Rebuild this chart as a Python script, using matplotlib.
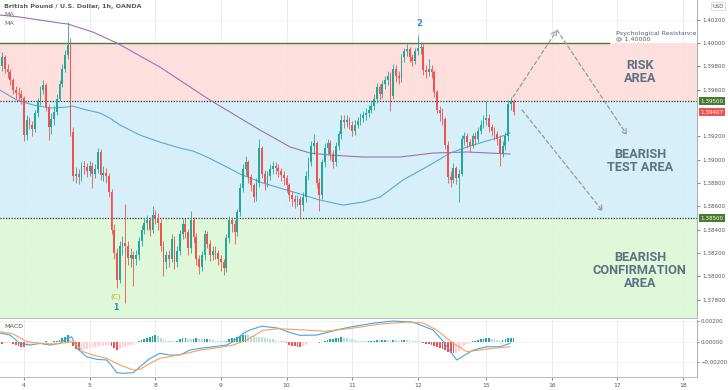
import matplotlib
matplotlib.use("Agg")
import matplotlib.pyplot as plt
import numpy as np

# ---------------- data ----------------
first_bar = -8
first_open = 1.3980
closes = [
    1.3988, 1.3978, 1.3975, 1.3968, 1.3960, 1.3957, 1.3956, 1.3953, 1.3921, 1.3934,
    1.3930, 1.3926, 1.3940, 1.3950, 1.3960, 1.3964, 1.3945, 1.3928, 1.3935, 1.3941,
    1.3952, 1.3965, 1.3978, 1.3990, 1.3998, 1.3924, 1.3886, 1.3888, 1.3885, 1.3895,
    1.3894, 1.3890, 1.3895, 1.3888, 1.3892, 1.3907, 1.3887, 1.3889, 1.3886, 1.3872,
    1.3840, 1.3820, 1.3797, 1.3826, 1.3829, 1.3826, 1.3816, 1.3818, 1.3815, 1.3818,
    1.3830, 1.3840, 1.3846, 1.3848, 1.3840, 1.3853, 1.3850, 1.3846, 1.3826, 1.3812,
    1.3818, 1.3815, 1.3832, 1.3812, 1.3822, 1.3836, 1.3845, 1.3838, 1.3824, 1.3848,
    1.3834, 1.3815, 1.3808, 1.3818, 1.3836, 1.3828, 1.3818, 1.3822, 1.3820, 1.3815,
    1.3812, 1.3807, 1.3833, 1.3848, 1.3845, 1.3838, 1.3855, 1.3876, 1.3892, 1.3898,
    1.3885, 1.3878, 1.3868, 1.3880, 1.3910, 1.3888, 1.3880, 1.3886, 1.3892, 1.3895,
    1.3893, 1.3890, 1.3887, 1.3884, 1.3878, 1.3870, 1.3866, 1.3864, 1.3866, 1.3861,
    1.3868, 1.3886, 1.3898, 1.3912, 1.3914, 1.3880, 1.3870, 1.3898, 1.3910, 1.3914,
    1.3905, 1.3898, 1.3912, 1.3922, 1.3934, 1.3932, 1.3934, 1.3930, 1.3925, 1.3930,
    1.3933, 1.3936, 1.3938, 1.3940, 1.3943, 1.3946, 1.3952, 1.3962, 1.3956, 1.3965,
    1.3968, 1.3972, 1.3955, 1.3978, 1.3972, 1.3970, 1.3988, 1.3993, 1.3995, 1.3988,
    1.3985, 1.3993, 1.3996, 1.3997, 1.3977, 1.3975, 1.3978, 1.3975, 1.3958, 1.3943,
    1.3940, 1.3935, 1.3913, 1.3885, 1.3883, 1.3893, 1.3884, 1.3888, 1.3918, 1.3920,
    1.3915, 1.3912, 1.3920, 1.3918, 1.3925, 1.3930, 1.3934, 1.3936, 1.3928, 1.3925,
    1.3922, 1.3918, 1.3906, 1.3912, 1.3920, 1.3948, 1.3950, 1.39407,
]
highs = [
    1.3992, 1.3990, 1.3982, 1.3978, 1.3970, 1.3963, 1.3962, 1.3960, 1.3955, 1.3938,
    1.3937, 1.3933, 1.3943, 1.3953, 1.3963, 1.3968, 1.3966, 1.3948, 1.3940, 1.3946,
    1.3956, 1.3968, 1.3982, 1.3994, 1.4018, 1.4004, 1.3928, 1.3894, 1.3892, 1.3898,
    1.3899, 1.3897, 1.3899, 1.3898, 1.3896, 1.3910, 1.3909, 1.3895, 1.3893, 1.3889,
    1.3875, 1.3845, 1.3824, 1.3830, 1.3835, 1.3862, 1.3830, 1.3824, 1.3822, 1.3823,
    1.3834, 1.3844, 1.3850, 1.3853, 1.3851, 1.3860, 1.3857, 1.3854, 1.3849, 1.3830,
    1.3822, 1.3823, 1.3836, 1.3835, 1.3826, 1.3840, 1.3849, 1.3850, 1.3841, 1.3856,
    1.3851, 1.3837, 1.3818, 1.3822, 1.3840, 1.3839, 1.3831, 1.3826, 1.3826, 1.3823,
    1.3818, 1.3815, 1.3836, 1.3852, 1.3851, 1.3848, 1.3858, 1.3880, 1.3896, 1.3903,
    1.3900, 1.3888, 1.3880, 1.3884, 1.3918, 1.3912, 1.3891, 1.3890, 1.3896, 1.3899,
    1.3898, 1.3896, 1.3893, 1.3890, 1.3887, 1.3880, 1.3873, 1.3870, 1.3870, 1.3869,
    1.3872, 1.3890, 1.3902, 1.3916, 1.3922, 1.3916, 1.3884, 1.3901, 1.3914, 1.3918,
    1.3917, 1.3908, 1.3915, 1.3925, 1.3938, 1.3938, 1.3938, 1.3937, 1.3933, 1.3934,
    1.3937, 1.3940, 1.3942, 1.3944, 1.3947, 1.3950, 1.3956, 1.3966, 1.3965, 1.3968,
    1.3972, 1.3976, 1.3975, 1.3982, 1.3981, 1.3976, 1.3991, 1.3996, 1.3999, 1.3997,
    1.3991, 1.3996, 1.4007, 1.4001, 1.3999, 1.3981, 1.3986, 1.3981, 1.3977, 1.3960,
    1.3946, 1.3944, 1.3937, 1.3916, 1.3890, 1.3897, 1.3895, 1.3892, 1.3921, 1.3924,
    1.3923, 1.3918, 1.3923, 1.3924, 1.3928, 1.3934, 1.3938, 1.3950, 1.3939, 1.3931,
    1.3928, 1.3925, 1.3921, 1.3916, 1.3924, 1.3951, 1.3954, 1.3952,
]
lows = [
    1.3976, 1.3974, 1.3970, 1.3964, 1.3956, 1.3952, 1.3950, 1.3948, 1.3916, 1.3917,
    1.3926, 1.3920, 1.3924, 1.3937, 1.3947, 1.3956, 1.3942, 1.3917, 1.3922, 1.3930,
    1.3938, 1.3950, 1.3962, 1.3975, 1.3986, 1.3920, 1.3882, 1.3880, 1.3879, 1.3882,
    1.3888, 1.3885, 1.3886, 1.3876, 1.3884, 1.3889, 1.3883, 1.3882, 1.3880, 1.3868,
    1.3836, 1.3815, 1.3790, 1.3794, 1.3818, 1.3777, 1.3810, 1.3808, 1.3792, 1.3810,
    1.3814, 1.3826, 1.3836, 1.3840, 1.3835, 1.3837, 1.3845, 1.3840, 1.3822, 1.3800,
    1.3806, 1.3808, 1.3812, 1.3806, 1.3808, 1.3818, 1.3832, 1.3833, 1.3818, 1.3820,
    1.3829, 1.3810, 1.3802, 1.3805, 1.3814, 1.3824, 1.3813, 1.3814, 1.3815, 1.3810,
    1.3805, 1.3801, 1.3804, 1.3829, 1.3838, 1.3828, 1.3835, 1.3852, 1.3872, 1.3887,
    1.3880, 1.3873, 1.3864, 1.3865, 1.3877, 1.3884, 1.3874, 1.3877, 1.3883, 1.3888,
    1.3888, 1.3885, 1.3882, 1.3878, 1.3872, 1.3865, 1.3860, 1.3859, 1.3860, 1.3851,
    1.3856, 1.3864, 1.3883, 1.3895, 1.3905, 1.3876, 1.3856, 1.3866, 1.3894, 1.3905,
    1.3900, 1.3893, 1.3895, 1.3908, 1.3918, 1.3927, 1.3928, 1.3926, 1.3920, 1.3921,
    1.3927, 1.3930, 1.3932, 1.3934, 1.3937, 1.3940, 1.3943, 1.3949, 1.3951, 1.3953,
    1.3961, 1.3964, 1.3942, 1.3952, 1.3967, 1.3965, 1.3967, 1.3984, 1.3989, 1.3984,
    1.3980, 1.3982, 1.3990, 1.3991, 1.3973, 1.3970, 1.3972, 1.3970, 1.3954, 1.3940,
    1.3933, 1.3930, 1.3909, 1.3880, 1.3877, 1.3880, 1.3879, 1.3864, 1.3886, 1.3913,
    1.3910, 1.3907, 1.3910, 1.3913, 1.3915, 1.3922, 1.3927, 1.3930, 1.3924, 1.3920,
    1.3917, 1.3913, 1.3895, 1.3902, 1.3908, 1.3916, 1.3943, 1.3938,
]

# moving averages (bar index, price)
ma_slow_bars = [-8.8, -1.5, 13.2, 16.1, 25.2, 34.0, 49.7, 68.0, 86.3, 97.3, 104.6, 111.9,
                123.9, 137.5, 149.5, 162.0, 170.4, 177.7]
ma_slow_vals = [1.40240, 1.40223, 1.40171, 1.40163, 1.40094, 1.40000, 1.39794, 1.39511,
                1.39254, 1.39109, 1.39057, 1.39040, 1.39023, 1.39023, 1.39057, 1.39066,
                1.39057, 1.39049]
ma_fast_bars = [-8.8, -2.6, 3.3, 9.5, 15.7, 17.6, 23.0, 27.8, 31.4, 35.1, 42.4, 49.7, 57.0,
                61.8, 66.9, 74.2, 79.0, 87.4, 99.8, 108.2, 116.6, 124.0, 130.2, 138.6,
                148.4, 155.8, 162.0, 167.8, 174.0, 177.7]
ma_fast_vals = [1.39597, 1.39511, 1.39469, 1.39443, 1.39451, 1.39460, 1.39426, 1.39400,
                1.39357, 1.39297, 1.39211, 1.39151, 1.39100, 1.39074, 1.39023, 1.38937,
                1.38877, 1.38800, 1.38714, 1.38654, 1.38611, 1.38637, 1.38680, 1.38826,
                1.38954, 1.39057, 1.39109, 1.39151, 1.39194, 1.39229]

# MACD histogram, units of 1e-4 (bars -8 .. 179)
macd_hist_e4 = [
    -2.0, -1.8, -1.6, -1.5,
    -2.5, -3.5, -4.5, -5.0, -5.2,
    -4.0, -3.0, -2.0,
    -1.0, -0.5, -0.8, -0.4, 0.3, -0.3, -0.5, 0.2,
    0.8, 1.8, 3.0, 4.5, 6.0,
    2.0,
    -4.0, -7.0, -8.5, -8.2,
    -7.5, -7.0, -6.5, -6.0, -5.5, -5.0, -4.5, -4.0, -3.5, -3.2,
    -4.5, -6.5, -8.5, -7.0,
    -6.0, -5.0, -4.0, -3.0, -2.0, -1.0,
    0.5, 1.5, 2.5, 3.5, 4.5, 5.5, 6.0,
    5.0, 3.5, 2.0, 1.0,
    0.5, 0.3, 0.2, 0.5,
    2.0, 3.0, 3.2, 2.5, 2.0,
    2.5, 3.0, 2.5, 2.0, 2.5, 2.8,
    2.0, 1.5, 1.0, 0.8, 0.5, 0.3, 1.0,
    2.0, 3.0, 3.5, 4.0, 5.0, 6.0, 6.5,
    6.0, 5.5, 5.0, 4.6, 4.4, 4.0, 3.5, 3.0, 2.5, 2.0, 1.5, 1.0, 0.5, 0.1,
    -1.5, -3.0, -4.0, -4.5, -5.0, -5.5,
    -4.5, -3.0,
    -1.5, -0.5, -0.3, -0.8, -1.0, -0.5,
    0.5, 1.5, 2.0, 2.5, 3.0, 3.5, 4.0, 3.5, 3.0,
    2.5, 2.0, 1.5, 1.0, 0.8, 0.6, 0.5,
    0.5, 0.8, 1.0, 1.5, 1.2, 1.5, 1.8, 1.5, 1.0, 1.5, 1.2, 1.0, 1.5, 1.8, 1.6, 1.2, 0.8,
    0.5, 0.3, 0.2,
    -1.0, -2.0, -2.5, -3.0, -4.0, -5.0, -6.0, -7.0,
    -8.5, -10.0, -11.0, -11.5, -11.0,
    -9.0, -6.0, -4.0, -2.5, -1.5,
    0.5, 1.0, 1.5, 2.0, 2.5, 3.0, 3.2,
    2.5, 2.0, 1.5, 1.0,
    1.5, 2.0, 3.0, 3.5, 3.8,
]
macd_bars = [-8.8, -5.1, -1.5, 2.2, 5.9, 9.5, 13.2, 15.6, 17.4, 19.3, 22.9, 26.6, 30.2, 31.4,
             33.9, 36.3, 40.0, 42.4, 46.1, 49.7, 53.4, 57.0, 60.7, 64.4, 69.2, 74.1, 76.5,
             80.2, 82.6, 87.0, 93.0, 97.0, 100.9, 107.0, 111.9, 115.5, 120.0, 128.0, 135.0,
             142.0, 146.0, 149.6, 153.3, 158.2, 164.3, 169.2, 174.0, 177.7]
macd_vals = [0.00083, 0.00063, -0.00018, -0.00034, -0.00018, -0.00034, -0.00018, 0.00031,
             0.00047, -0.00066, -0.00148, -0.00174, -0.00180, -0.00213, -0.00304, -0.00310,
             -0.00304, -0.00246, -0.00164, -0.00115, -0.00132, -0.00132, -0.00083, -0.00066,
             -0.00051, -0.00034, 0.0, 0.00080, 0.00112, 0.00150, 0.00130, 0.00090, 0.00060,
             0.00063, 0.00096, 0.00120, 0.00145, 0.00180, 0.00200, 0.00190, 0.00150,
             0.00112, 0.0, -0.00180, -0.00083, -0.00051, -0.00051, -0.00018]
signal_bars = [-8.8, -3.9, 1.0, 5.9, 10.7, 15.6, 18.0, 21.7, 25.3, 30.2, 35.1, 40.0, 42.4,
               46.1, 49.7, 54.6, 59.5, 64.4, 71.7, 76.5, 81.4, 87.5, 93.0, 101.0, 110.0,
               120.0, 130.0, 140.0, 146.0, 150.9, 157.0, 161.9, 166.7, 171.6, 177.7]
signal_vals = [0.00096, 0.00073, 0.0, -0.00018, -0.00024, -0.00010, 0.0, -0.00100, -0.00132,
               -0.00164, -0.00229, -0.00278, -0.00271, -0.00213, -0.00164, -0.00141, -0.00115,
               -0.00083, -0.00057, -0.00034, 0.00015, 0.00110, 0.00125, 0.00115, 0.00100,
               0.00130, 0.00170, 0.00190, 0.00180, 0.00112, -0.00018, -0.00100, -0.00083,
               -0.00066, -0.00051]

day_tick_bars = [0, 24, 48, 72, 96, 120, 144, 169, 193, 217, 241]
day_labels = ["4", "5", "8", "9", "10", "11", "12", "15", "16", "17", "18"]
price_ticks = [1.378, 1.380, 1.382, 1.384, 1.386, 1.388, 1.390, 1.392, 1.396, 1.398, 1.400, 1.402]
macd_ticks = [0.002, 0.0, -0.002]

resistance = 1.40000
upper_level = 1.39500
lower_level = 1.38500
last_price = 1.39407

proj_up = [(178.8, 1.39537), (194.9, 1.40111)]
proj_down_a = [(194.9, 1.40111), (220.5, 1.39211)]
proj_down_b = [(182.1, 1.39426), (211.7, 1.38556)]

# ---------------- figure ----------------
W, H = 728, 390
fig = plt.figure(figsize=(W / 100, H / 100), dpi=100)
fig.patch.set_facecolor("white")
ax = fig.add_axes([0, 1 - 318 / H, 697 / W, 318 / H])
axm = fig.add_axes([0, 1 - 377 / H, 697 / W, 57 / H])

xmin, xmax = -8.775, 246.07
ymin, ymax = 1.37643, 1.40369

for a in (ax, axm):
    a.set_xlim(xmin, xmax)
    a.set_facecolor("white")
    for v in day_tick_bars:
        a.axvline(v, color="#e6e9ee", lw=0.6, zorder=0.2)
    for s in ("top", "left"):
        a.spines[s].set_visible(False)
    a.spines["right"].set_color("#a9acb4")
    a.spines["bottom"].set_color("#b8bbc2")
    a.spines["right"].set_linewidth(0.7)
    a.spines["bottom"].set_linewidth(0.7)

ax.set_ylim(ymin, ymax)
for p in price_ticks:
    ax.axhline(p, color="#eceff3", lw=0.5, zorder=0.1)

# zones
ax.axhspan(upper_level, resistance, color="#fddcdb", zorder=0.3, alpha=0.9, lw=0)
ax.axhspan(lower_level, upper_level, color="#d2eef8", zorder=0.3, alpha=0.9, lw=0)
ax.axhspan(ymin, lower_level, color="#dcf8d5", zorder=0.3, alpha=0.9, lw=0)

ax.axhline(upper_level, color="#333333", lw=0.9, ls=(0, (1, 1.2)), zorder=1)
ax.axhline(lower_level, color="#333333", lw=0.9, ls=(0, (1, 1.2)), zorder=1)
ax.plot([xmin, 213.9], [resistance, resistance], color="#4d7a35", lw=1.0, zorder=1)

# moving averages
ax.plot(ma_slow_bars, ma_slow_vals, color="#9c72b8", lw=0.8, zorder=2)
ax.plot(ma_fast_bars, ma_fast_vals, color="#5aa8da", lw=0.8, zorder=2)

# candles
n = len(closes)
bars = np.arange(first_bar, first_bar + n)
opens = [first_open] + closes[:-1]
up_c, dn_c = "#26a69a", "#ef5350"
cols = [up_c if c >= o else dn_c for o, c in zip(opens, closes)]
ax.vlines(bars, lows, highs, colors=cols, lw=0.6, zorder=3)
bottoms = [min(o, c) for o, c in zip(opens, closes)]
heights = [max(abs(c - o), 0.00004) for o, c in zip(opens, closes)]
ax.bar(bars, heights, bottom=bottoms, width=0.66, color=cols, lw=0, zorder=4)

# projections
for seg in (proj_up, proj_down_a, proj_down_b):
    ax.annotate("", xy=seg[1], xytext=seg[0],
                arrowprops=dict(arrowstyle="->,head_length=0.35,head_width=0.2",
                                color="#9a9a9a", lw=0.9, ls=(0, (3, 2.2)),
                                shrinkA=0, shrinkB=0), zorder=5)

# zone labels
zone_kw = dict(ha="center", va="center", fontsize=9.2, fontweight="bold",
               color="#5d7383", family="Roboto", linespacing=1.0, zorder=6)
ax.text(225.2, 1.39751, "RISK\nAREA", **zone_kw)
ax.text(225.2, 1.38993, "BEARISH\nTEST AREA", **zone_kw)
ax.text(225.2, 1.38054, "BEARISH\nCONFIRMATION\nAREA", **zone_kw)
ax.text(216.6, 1.40060, "Psychological Resistance\n@ 1.40000", ha="left", va="center",
        fontsize=4.6, color="#4f5f6c", linespacing=0.95, zorder=6)

# wave labels
ax.text(144.4, 1.40171, "2", ha="center", va="center", fontsize=6.2, fontweight="bold",
        color="#2f8ed8", zorder=6)
ax.text(33.6, 1.37823, "(C)", ha="center", va="center", fontsize=5.2, color="#c8b000", zorder=6)
ax.text(33.6, 1.37729, "1", ha="center", va="center", fontsize=5.6, fontweight="bold",
        color="#2e8bc0", zorder=6)

# header
ax.text(0.006, 0.978, "British Pound / U.S. Dollar, 1h, OANDA", transform=ax.transAxes,
        fontsize=4.6, fontweight="bold", color="#5a5a5a", va="center", ha="left", zorder=7)
ax.text(0.006, 0.953, "MA", transform=ax.transAxes, fontsize=4.6, color="#6a6a6a",
        va="center", ha="left", zorder=7)
ax.text(0.006, 0.925, "MA", transform=ax.transAxes, fontsize=4.6, color="#6a6a6a",
        va="center", ha="left", zorder=7)

# right axis (main)
ax.yaxis.tick_right()
ax.set_yticks(price_ticks)
ax.set_yticklabels([f"{p:.5f}" for p in price_ticks])
ax.tick_params(axis="y", labelsize=4.1, colors="#555555", length=2, width=0.5, pad=2)
ax.tick_params(axis="x", bottom=False, labelbottom=False)

for lvl, txt, col in ((upper_level, "1.39500", "#497a2d"), (last_price, "1.39407", "#ef5350"),
                      (lower_level, "1.38500", "#497a2d")):
    ax.annotate(txt, xy=(1.005, lvl), xycoords=("axes fraction", "data"), ha="left",
                va="center", fontsize=4.1, color="white", annotation_clip=False,
                bbox=dict(boxstyle="square,pad=0.28", fc=col, ec="none"), zorder=8)

fig.text(718 / W, 1 - 6 / H, "USD", fontsize=3.8, color="#555555", ha="center", va="center",
         bbox=dict(boxstyle="square,pad=0.3", fc="white", ec="#cfd2d8", lw=0.5))

# MACD pane
axm.set_ylim(-0.00346, 0.0021)
for t in macd_ticks:
    axm.axhline(t, color="#eceff3", lw=0.5, zorder=0.1)
hist = np.array(macd_hist_e4) * 1e-4
hb = bars[:len(hist)]
hist = hist[:len(hb)]
hcols = []
for i, v in enumerate(hist):
    prev = hist[i - 1] if i > 0 else v
    if v >= 0:
        hcols.append("#26a69a" if v >= prev else "#b2dfdb")
    else:
        hcols.append("#ef5350" if v <= prev else "#ffcdd2")
axm.bar(hb, hist, width=0.62, color=hcols, lw=0, zorder=2)
axm.plot(macd_bars, macd_vals, color="#4aa3df", lw=0.8, zorder=3)
axm.plot(signal_bars, signal_vals, color="#f4a25c", lw=0.8, zorder=3)
axm.text(0.006, 0.88, "MACD", transform=axm.transAxes, fontsize=4.6, color="#555555",
         va="center", ha="left")
axm.yaxis.tick_right()
axm.set_yticks(macd_ticks)
axm.set_yticklabels(["0.00200", "0.00000", "\u22120.00200"])
axm.tick_params(axis="y", labelsize=3.9, colors="#555555", length=1.5, width=0.5, pad=1.2)
axm.set_xticks(day_tick_bars)
axm.set_xticklabels(day_labels)
axm.tick_params(axis="x", labelsize=4.3, colors="#555555", length=2, width=0.5, pad=2)

fig.savefig("out.png", dpi=100)
